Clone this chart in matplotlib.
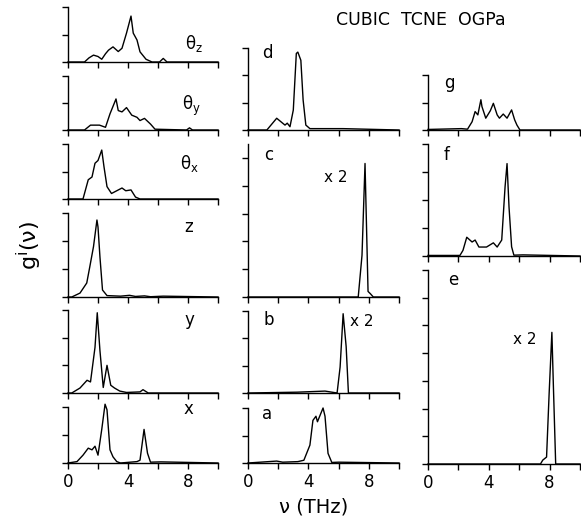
import matplotlib
matplotlib.use("Agg")
import matplotlib.pyplot as plt

W, H = 581, 525

# ---------------- data (frequency in THz, g in tick units) ----------------
tz_f = [0, 1.1, 1.4, 1.7, 2.0, 2.25, 2.5, 2.7, 3.0, 3.35, 3.6, 3.9, 4.2, 4.35, 4.6, 4.8, 5.2, 5.6, 6.1, 6.35, 6.6, 10]
tz_g = [0, 0, 0.15, 0.25, 0.2, 0.1, 0.3, 0.43, 0.55, 0.38, 0.5, 1.05, 1.67, 1.05, 0.8, 0.37, 0.1, 0.0, 0.0, 0.13, 0.0, 0]

ty_f = [0, 1.1, 1.5, 2.1, 2.5, 2.8, 3.2, 3.35, 3.6, 3.9, 4.25, 4.6, 4.8, 5.1, 5.5, 5.8, 7.9, 8.1, 8.3, 10]
ty_g = [0, 0, 0.18, 0.18, 0.1, 0.6, 1.15, 0.72, 0.67, 0.83, 0.55, 0.47, 0.35, 0.43, 0.22, 0.03, 0.0, 0.08, 0.0, 0]

tx_f = [0, 1.0, 1.35, 1.6, 1.8, 2.0, 2.25, 2.4, 2.6, 2.9, 3.25, 3.6, 3.85, 4.2, 4.5, 4.8, 10]
tx_g = [0, 0, 0.7, 0.8, 1.3, 1.4, 1.78, 1.17, 0.45, 0.2, 0.3, 0.4, 0.3, 0.33, 0.07, 0, 0]

z_f = [0, 0.25, 0.8, 1.25, 1.45, 1.7, 1.93, 2.0, 2.13, 2.3, 2.6, 3.5, 4.1, 4.5, 5.1, 5.5, 6.35, 10]
z_g = [0, 0, 0.14, 0.5, 1.07, 1.8, 2.75, 2.5, 1.43, 0.25, 0.05, 0.03, 0.06, 0.02, 0.04, 0.01, 0.03, 0]

y_f = [0, 0.25, 0.8, 1.27, 1.5, 1.8, 1.95, 2.13, 2.35, 2.6, 2.85, 3.1, 3.45, 3.9, 4.8, 5.0, 5.35, 10]
y_g = [0, 0, 0.18, 0.46, 0.4, 1.65, 2.9, 1.53, 0.2, 1.0, 0.28, 0.18, 0.07, 0.02, 0.04, 0.12, 0.0, 0]

x_f = [0, 0.6, 1.0, 1.35, 1.6, 1.8, 2.0, 2.25, 2.47, 2.6, 2.8, 3.0, 3.25, 3.5, 4.6, 4.8, 5.07, 5.3, 5.5, 6.2, 10]
x_g = [0, 0.05, 0.28, 0.53, 0.47, 0.6, 0.28, 1.2, 2.1, 1.9, 0.47, 0.22, 0.05, 0.0, 0.05, 0.1, 1.2, 0.35, 0.03, 0.04, 0]

d_f = [0, 1.25, 1.9, 2.25, 2.45, 2.6, 2.78, 3.0, 3.2, 3.3, 3.5, 3.65, 3.83, 4.1, 5.2, 6.3, 10]
d_g = [0, 0, 0.43, 0.27, 0.18, 0.25, 0.12, 0.73, 2.8, 2.85, 2.55, 1.1, 0.18, 0.05, 0.05, 0.05, 0]

c_f = [0, 7.3, 7.55, 7.75, 7.95, 8.1, 8.3, 10]
c_g = [0, 0, 1.5, 4.8, 0.2, 0.12, 0, 0]

b_f = [0, 3.25, 5.1, 5.9, 6.1, 6.3, 6.5, 6.65, 10]
b_g = [0, 0.03, 0.07, 0, 0.95, 2.9, 1.7, 0, 0]

a_f = [0, 1.9, 2.3, 3.3, 3.7, 4.1, 4.3, 4.5, 4.6, 4.97, 5.1, 5.3, 5.55, 6.0, 10]
a_g = [0, 0.07, 0.03, 0.05, 0.1, 0.65, 1.55, 1.7, 1.5, 2.0, 1.7, 0.35, 0.02, 0.03, 0]

g_f = [0, 2.2, 2.6, 2.9, 3.1, 3.28, 3.48, 3.55, 3.8, 4.1, 4.3, 4.55, 4.7, 4.95, 5.2, 5.5, 5.7, 5.85, 6.05, 10]
g_g = [0.02, 0.05, 0.03, 0.3, 0.67, 0.55, 1.1, 0.85, 0.43, 0.7, 0.97, 0.55, 0.43, 0.58, 0.43, 0.73, 0.37, 0.18, 0, 0]

f_f = [0, 2.1, 2.3, 2.55, 2.9, 3.1, 3.35, 3.85, 4.3, 4.55, 4.85, 5.07, 5.2, 5.33, 5.5, 5.65, 6.25, 10]
f_g = [0.02, 0.02, 0.2, 0.67, 0.5, 0.57, 0.32, 0.32, 0.47, 0.32, 0.57, 2.47, 3.3, 1.75, 0.33, 0.03, 0.04, 0]

e_f = [0, 7.4, 7.55, 7.8, 7.97, 8.15, 8.25, 8.4, 10]
e_g = [0, 0, 0.14, 0.25, 2.55, 4.75, 2.8, 0, 0]

# panel: (x0_px, x1_px, top_px, bottom_px, ymax, freq, g, label, label_px, x2 label px, bottom row)
panels = [
    (68, 218, 7, 62, 2, tz_f, tz_g, r'θ$_\mathrm{z}$', (194, 43), None, False),
    (68, 218, 76, 130, 2, ty_f, ty_g, r'θ$_\mathrm{y}$', (191, 106), None, False),
    (68, 218, 144, 199, 2, tx_f, tx_g, r'θ$_\mathrm{x}$', (189, 163), None, False),
    (68, 218, 213, 297, 3, z_f, z_g, 'z', (189, 227), None, False),
    (68, 218, 310, 393, 3, y_f, y_g, 'y', (189, 320), None, False),
    (68, 218, 407, 463, 2, x_f, x_g, 'x', (188, 409), None, True),
    (248, 399, 48, 130, 3, d_f, d_g, 'd', (267, 53), None, False),
    (248, 399, 144, 297, 5.5, c_f, c_g, 'c', (269, 155), (336, 178), False),
    (248, 399, 311, 393, 3, b_f, b_g, 'b', (269, 320), (362, 322), False),
    (248, 399, 408, 463, 2, a_f, a_g, 'a', (267, 414), None, True),
    (428, 580, 75, 130, 2, g_f, g_g, 'g', (449, 83), None, False),
    (428, 580, 144, 256, 4, f_f, f_g, 'f', (447, 155), None, False),
    (428, 580, 270, 464, 7, e_f, e_g, 'e', (453, 280), (525, 339), True),
]

fig = plt.figure(figsize=(W / 100, H / 100), dpi=100)

def fx(x):
    return x / W

def fy(y):
    return 1 - y / H

for (x0, x1, top, bot, ymax, fr, gv, lab, lpos, x2pos, bottom) in panels:
    ax = fig.add_axes([fx(x0), fy(bot), (x1 - x0) / W, (bot - top) / H])
    ax.plot(fr, gv, color='black', lw=1.0, clip_on=False)
    ax.set_xlim(0, 10)
    ax.set_ylim(0, ymax)
    ax.set_xticks([0, 2, 4, 6, 8, 10])
    if bottom:
        ax.set_xticklabels(['0', '', '4', '', '8', ''], fontsize=12)
    else:
        ax.set_xticklabels([])
    ax.set_yticks(range(0, int(ymax) + 1))
    ax.set_yticklabels([])
    for s in ('top', 'right'):
        ax.spines[s].set_visible(False)
    for s in ('left', 'bottom'):
        ax.spines[s].set_linewidth(1.0)
    ax.tick_params(direction='out', length=4, width=1.0, pad=3)
    ax.patch.set_alpha(0)
    fig.text(fx(lpos[0]), fy(lpos[1]), lab, fontsize=12, ha='center', va='center')
    if x2pos is not None:
        fig.text(fx(x2pos[0]), fy(x2pos[1]), 'x 2', fontsize=11, ha='center', va='center')

fig.text(fx(421), fy(20), 'CUBIC  TCNE  OGPa', fontsize=12.5, ha='center', va='center')
fig.text(fx(314), fy(507), 'ν (THz)', fontsize=14, ha='center', va='center')
fig.text(fx(29), fy(245), r'g$^{\mathrm{i}}$(ν)', fontsize=16, ha='center', va='center', rotation=90)

fig.savefig('out.png', dpi=100)
